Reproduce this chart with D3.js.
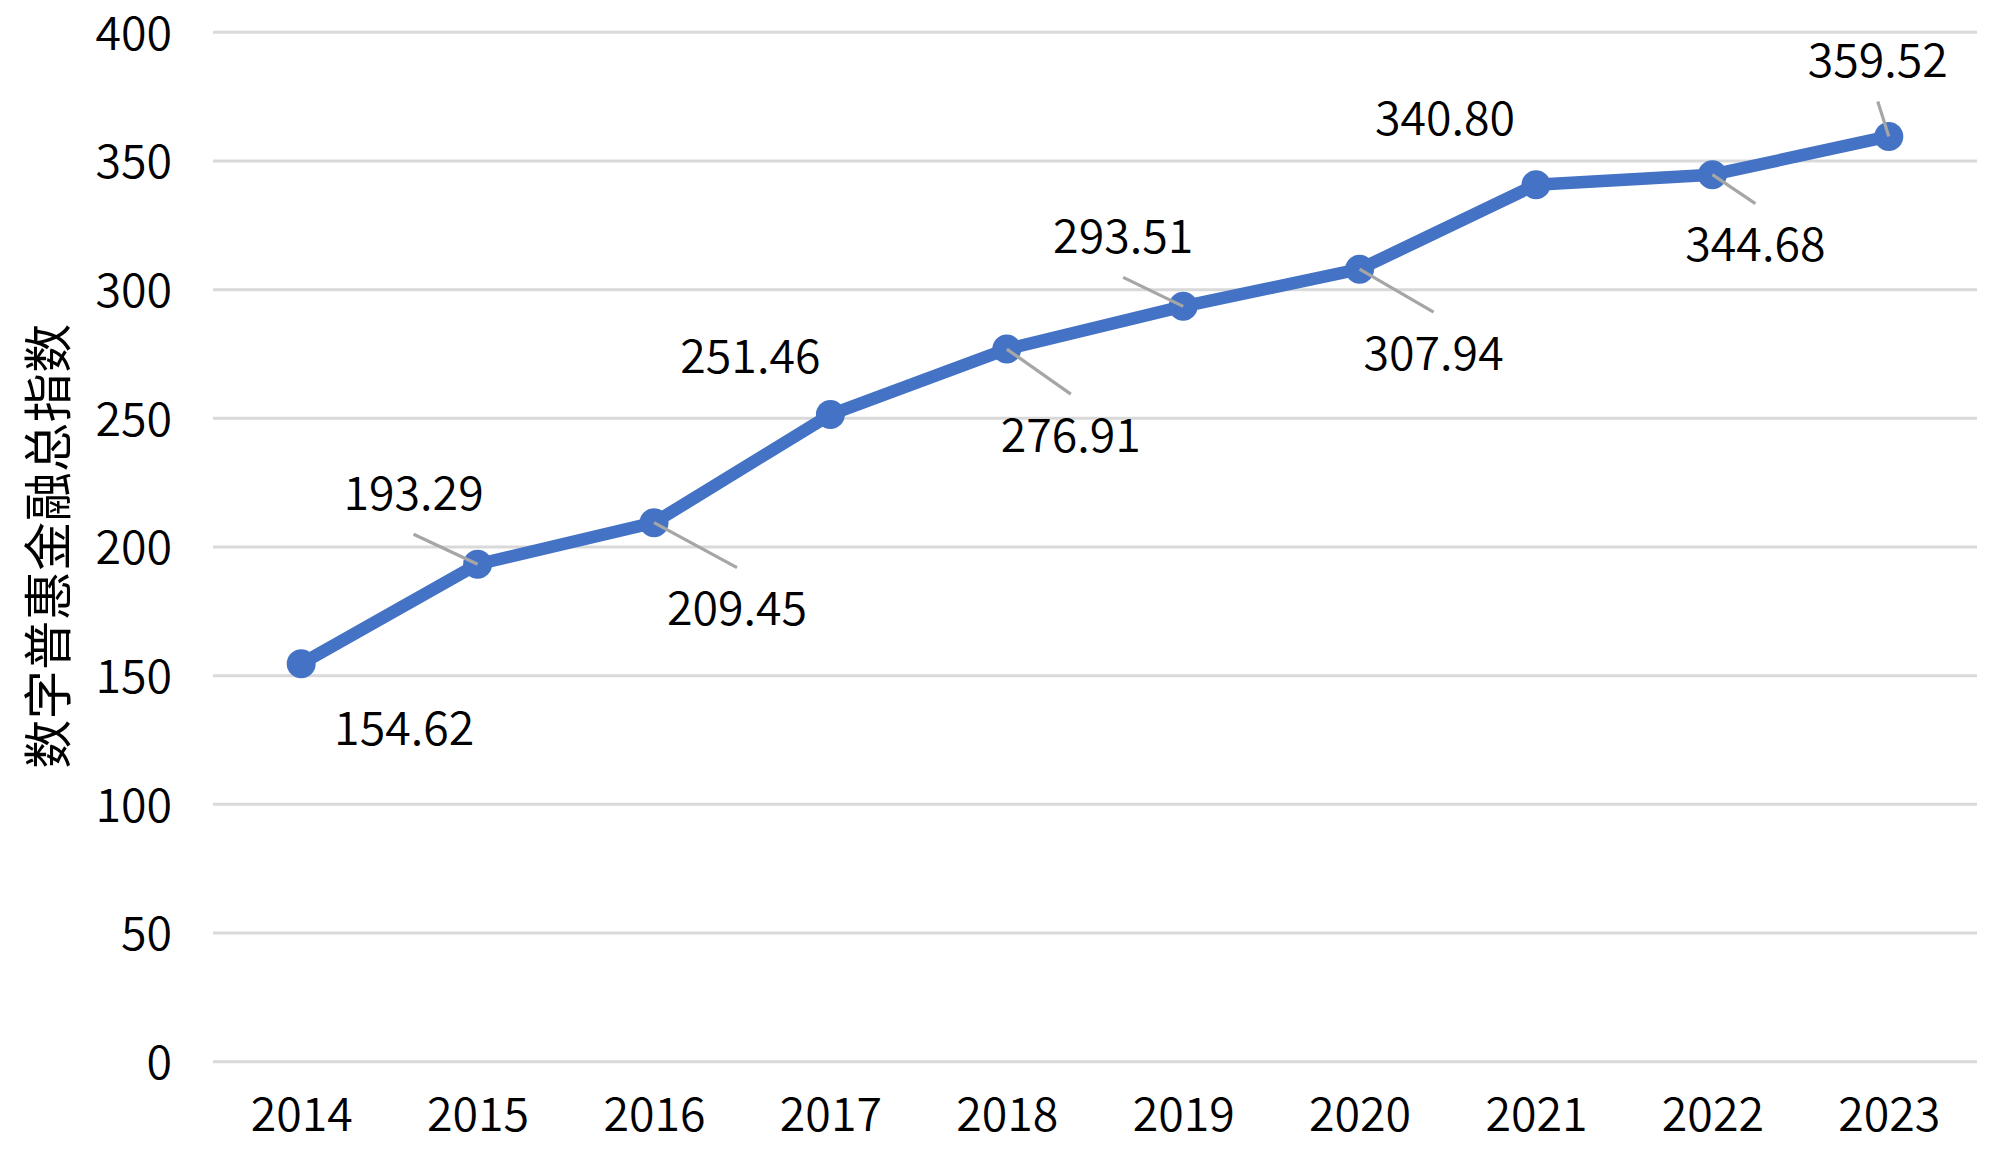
<!DOCTYPE html>
<html>
<head>
<meta charset="utf-8">
<script src="https://cdn.jsdelivr.net/npm/d3@7"></script>
<style>
  html, body { margin: 0; padding: 0; background: #fff; }
  svg { display: block; }
</style>
</head>
<body>
<svg id="chart" width="2000" height="1163"></svg>
<script>
// ---- data ----
const years = ["2014", "2015", "2016", "2017", "2018", "2019", "2020", "2021", "2022", "2023"];
const values = [154.62, 193.29, 209.45, 251.46, 276.91, 293.51, 307.94, 340.80, 344.68, 359.52];
const yTicks = [0, 50, 100, 150, 200, 250, 300, 350, 400];
const yTitle = "数字普惠金融总指数";

// ---- label layout (offset of label centre from its point, in px; leader flag) ----
const labelDx = [103, -64, 83, -80, 64, -60, 74, -91, 43, -11];
const labelDy = [65, -71, 86, -58, 86, -70, 84, -66, 70, -76];
const hasLeader = [false, true, true, false, true, true, true, false, true, true];

(function () {
  const plotL = 213, plotR = 1977, plotT = 32.3, plotB = 1061.7;
  const font = "'Noto Sans CJK SC', 'Noto Sans', sans-serif";
  const fs = 46.5;
  const fw = 350;
  const capHalf = 16.7;

  const svg = d3.select("#chart");

  const x = d3.scalePoint().domain(years).range([plotL, plotR]).padding(0.5);
  const y = d3.scaleLinear().domain([0, 400]).range([plotB, plotT]);

  // gridlines
  svg.append("g")
    .selectAll("line")
    .data(yTicks)
    .join("line")
    .attr("x1", plotL).attr("x2", plotR)
    .attr("y1", d => y(d)).attr("y2", d => y(d))
    .attr("stroke", "#d9d9d9")
    .attr("stroke-width", 3);

  // y axis labels
  const yAxis = d3.axisLeft(y).tickValues(yTicks).tickSize(0).tickPadding(0).tickFormat(d3.format("d"));
  const gy = svg.append("g").attr("transform", "translate(172,0)").call(yAxis);
  gy.select(".domain").remove();
  gy.selectAll("text")
    .attr("font-family", font).attr("font-size", fs).attr("font-weight", fw).attr("fill", "#000")
    .attr("dy", null).attr("y", capHalf).attr("text-anchor", "end");

  // x axis labels
  const xAxis = d3.axisBottom(x).tickSize(0).tickPadding(0);
  const gx = svg.append("g").call(xAxis);
  gx.select(".domain").remove();
  gx.selectAll("text")
    .attr("font-family", font).attr("font-size", fs).attr("font-weight", fw).attr("fill", "#000")
    .attr("dy", null).attr("y", 1130.5).attr("text-anchor", "middle");

  // y title
  svg.append("text")
    .attr("transform", "translate(66,546) rotate(-90)")
    .attr("text-anchor", "middle")
    .attr("font-family", "'Noto Sans CJK SC', sans-serif")
    .attr("font-size", 49)
    .attr("letter-spacing", 0.5)
    .attr("fill", "#000")
    .text(yTitle);

  // line
  const line = d3.line().x((d, i) => x(years[i])).y(d => y(d));
  svg.append("path")
    .datum(values)
    .attr("d", line)
    .attr("fill", "none")
    .attr("stroke", "#4472c4")
    .attr("stroke-width", 12.5)
    .attr("stroke-linejoin", "round");

  // markers
  svg.append("g")
    .selectAll("circle")
    .data(values)
    .join("circle")
    .attr("cx", (d, i) => x(years[i]))
    .attr("cy", d => y(d))
    .attr("r", 14.5)
    .attr("fill", "#4472c4");

  // leader lines
  svg.append("g")
    .selectAll("line")
    .data(values.map((v, i) => i).filter(i => hasLeader[i]))
    .join("line")
    .attr("x1", i => x(years[i]) + labelDx[i])
    .attr("y1", i => y(values[i]) + labelDy[i] + (labelDy[i] > 0 ? -41 : 41))
    .attr("x2", i => x(years[i]))
    .attr("y2", i => y(values[i]))
    .attr("stroke", "#a6a6a6")
    .attr("stroke-width", 3.2);

  // data labels
  svg.append("g")
    .selectAll("text")
    .data(values)
    .join("text")
    .attr("x", (d, i) => x(years[i]) + labelDx[i])
    .attr("y", (d, i) => y(d) + labelDy[i] + capHalf)
    .attr("text-anchor", "middle")
    .attr("font-family", font)
    .attr("font-size", fs)
    .attr("font-weight", fw)
    .attr("fill", "#000")
    .text(d => d.toFixed(2));
})();
</script>
</body>
</html>
